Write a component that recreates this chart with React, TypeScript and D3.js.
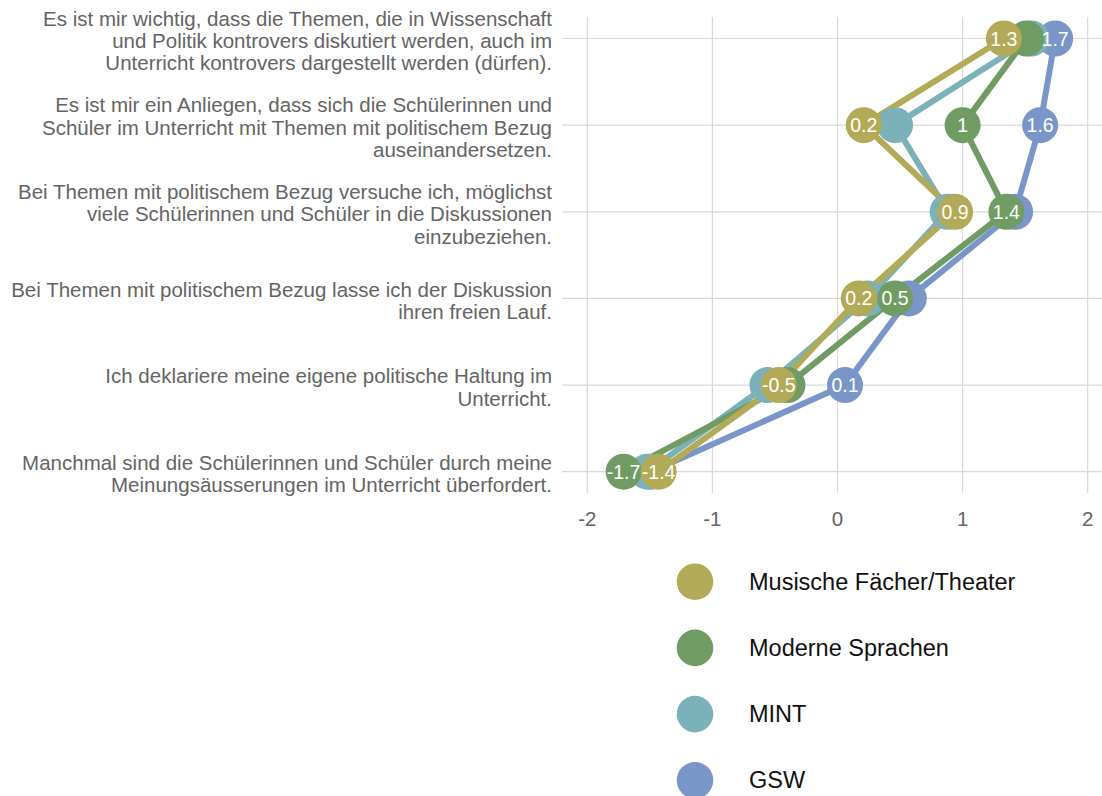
import React from 'react';
import * as d3 from 'd3';

const WIDTH = 1102;
const HEIGHT = 796;
const PANEL = { left: 562, right: 1102, top: 17, bottom: 493 };
const FONT = '"Liberation Sans", Arial, Helvetica, sans-serif';

// statements, top to bottom (line breaks as in the chart)
const categories = [
  'Es ist mir wichtig, dass die Themen, die in Wissenschaft\nund Politik kontrovers diskutiert werden, auch im\nUnterricht kontrovers dargestellt werden (dürfen).',
  'Es ist mir ein Anliegen, dass sich die Schülerinnen und\nSchüler im Unterricht mit Themen mit politischem Bezug\nauseinandersetzen.',
  'Bei Themen mit politischem Bezug versuche ich, möglichst\nviele Schülerinnen und Schüler in die Diskussionen\neinzubeziehen.',
  'Bei Themen mit politischem Bezug lasse ich der Diskussion\nihren freien Lauf.',
  'Ich deklariere meine eigene politische Haltung im\nUnterricht.',
  'Manchmal sind die Schülerinnen und Schüler durch meine\nMeinungsäusserungen im Unterricht überfordert.',
];

const seriesNames = ['Musische Fächer/Theater', 'Moderne Sprachen', 'MINT', 'GSW'];
const seriesColors = ['#b3aa57', '#709c63', '#7bb1b9', '#7a96c8'];

const musische = [1.33, 0.21, 0.94, 0.17, -0.47, -1.43];
const moderne = [1.51, 1.0, 1.35, 0.46, -0.4, -1.71];
const mint = [1.55, 0.46, 0.88, 0.24, -0.56, -1.52];
const gsw = [1.74, 1.62, 1.42, 0.57, 0.06, -1.49];
const seriesValues = [musische, moderne, mint, gsw];

// which value labels are visible (overlapping ones are dropped in the original)
const showLabel = [
  [true, true, true, true, true, true],
  [false, true, true, true, false, true],
  [false, false, false, false, false, false],
  [true, true, false, false, true, false],
];

const xTicks = [-2, -1, 0, 1, 2];

const fmt = (v: number) => String(Number(v.toFixed(1)));

export default function App() {
  const x = d3.scaleLinear().domain([-2, 2]).range([587.3, 1087.7]);
  const y = d3
    .scalePoint<string>()
    .domain(categories)
    .range([38.5, 471.7]);

  const line = d3
    .line<number>()
    .x((d) => x(d))
    .y((_, i) => y(categories[i]) as number);

  // bottom to top: GSW, MINT, Moderne, Musische
  const drawOrder = [3, 2, 1, 0];

  return (
    <svg
      width={WIDTH}
      height={HEIGHT}
      style={{ position: 'absolute', left: 0, top: 0, background: '#fff' }}
      fontFamily={FONT}
    >
      {/* grid */}
      <g stroke="#d9d9d9" strokeWidth={1.2}>
        {xTicks.map((t) => (
          <line key={t} x1={x(t)} x2={x(t)} y1={PANEL.top} y2={PANEL.bottom} />
        ))}
        {categories.map((c) => (
          <line key={c} x1={PANEL.left} x2={PANEL.right} y1={y(c)} y2={y(c)} />
        ))}
      </g>

      {/* y axis labels */}
      <g fill="#646464" fontSize={20.5} textAnchor="end">
        {categories.map((c) => {
          const lines = c.split('\n');
          const lh = 22.4;
          const y0 = (y(c) as number) + 1.5 - ((lines.length - 1) * lh) / 2;
          return (
            <text key={c} x={552} y={y0} dominantBaseline="central">
              {lines.map((l, i) => (
                <tspan key={i} x={552} y={y0 + i * lh}>
                  {l}
                </tspan>
              ))}
            </text>
          );
        })}
      </g>

      {/* x axis labels */}
      <g fill="#646464" fontSize={20.5} textAnchor="middle">
        {xTicks.map((t) => (
          <text key={t} x={x(t)} y={518} dominantBaseline="central">
            {t}
          </text>
        ))}
      </g>

      {/* lines */}
      {drawOrder.map((s) => (
        <path
          key={'l' + s}
          d={line(seriesValues[s]) || ''}
          fill="none"
          stroke={seriesColors[s]}
          strokeWidth={6}
          strokeLinejoin="round"
        />
      ))}

      {/* points */}
      {drawOrder.map((s) => (
        <g key={'p' + s} fill={seriesColors[s]}>
          {seriesValues[s].map((v, i) => (
            <circle key={i} cx={x(v)} cy={y(categories[i])} r={18} />
          ))}
        </g>
      ))}

      {/* value labels */}
      <g fill="#fff" fontSize={19.5} textAnchor="middle">
        {seriesValues.map((vals, s) =>
          vals.map((v, i) =>
            showLabel[s][i] ? (
              <text
                key={s + '-' + i}
                x={x(v)}
                y={y(categories[i])}
                dominantBaseline="central"
              >
                {fmt(v)}
              </text>
            ) : null
          )
        )}
      </g>

      {/* legend */}
      <g>
        {seriesNames.map((n, i) => (
          <g key={n} transform={`translate(0,${581.7 + i * 66.2})`}>
            <circle cx={695} cy={0} r={18.3} fill={seriesColors[i]} />
            <text x={749} y={0} fontSize={23.5} fill="#111" dominantBaseline="central">
              {n}
            </text>
          </g>
        ))}
      </g>
    </svg>
  );
}
